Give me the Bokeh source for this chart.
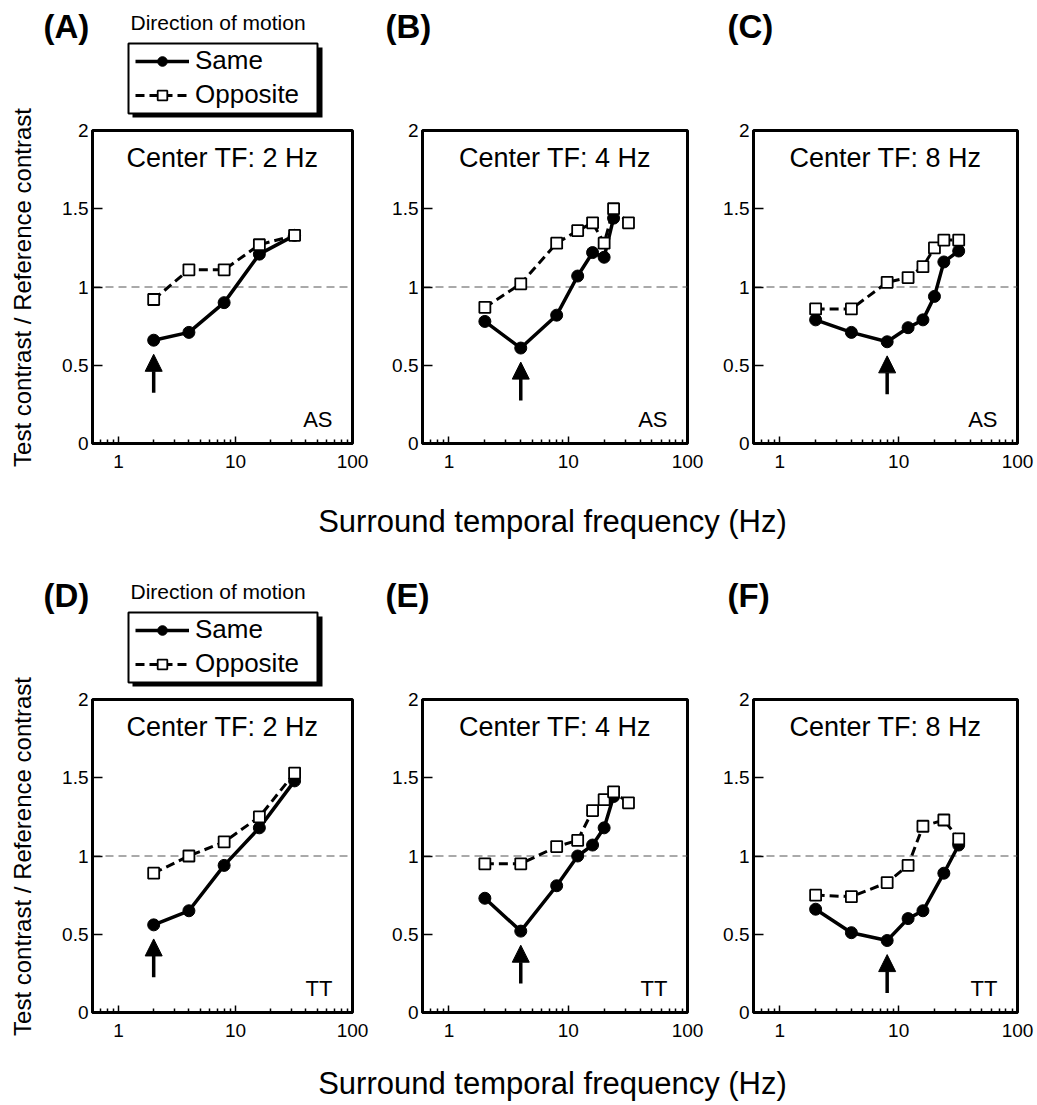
import math
from bokeh.plotting import figure
from bokeh.models import (Range1d, FixedTicker, CustomJSTickFormatter, Span, Label, Arrow,
                          NormalHead, BoxAnnotation, Legend, LegendItem, ColumnDataSource)
from bokeh.layouts import column, row
from bokeh.embed import file_html
from bokeh.resources import INLINE

# ---------------- data ----------------
panel_letters = ["(A)", "(B)", "(C)", "(D)", "(E)", "(F)"]
center_tf = [2, 4, 8, 2, 4, 8]
subjects = ["AS", "AS", "AS", "TT", "TT", "TT"]

freq_same_A = [2, 4, 8, 16, 32]
same_A = [0.66, 0.71, 0.90, 1.21, 1.33]
freq_opp_A = [2, 4, 8, 16, 32]
opp_A = [0.92, 1.11, 1.11, 1.27, 1.33]

freq_same_B = [2, 4, 8, 12, 16, 20, 24]
same_B = [0.78, 0.61, 0.82, 1.07, 1.22, 1.19, 1.44]
freq_opp_B = [2, 4, 8, 12, 16, 20, 24, 32]
opp_B = [0.87, 1.02, 1.28, 1.36, 1.41, 1.28, 1.50, 1.41]

freq_same_C = [2, 4, 8, 12, 16, 20, 24, 32]
same_C = [0.79, 0.71, 0.65, 0.74, 0.79, 0.94, 1.16, 1.23]
freq_opp_C = [2, 4, 8, 12, 16, 20, 24, 32]
opp_C = [0.86, 0.86, 1.03, 1.06, 1.13, 1.25, 1.30, 1.30]

freq_same_D = [2, 4, 8, 16, 32]
same_D = [0.56, 0.65, 0.94, 1.18, 1.48]
freq_opp_D = [2, 4, 8, 16, 32]
opp_D = [0.89, 1.00, 1.09, 1.25, 1.53]

freq_same_E = [2, 4, 8, 12, 16, 20, 24]
same_E = [0.73, 0.52, 0.81, 1.00, 1.07, 1.18, 1.38]
freq_opp_E = [2, 4, 8, 12, 16, 20, 24, 32]
opp_E = [0.95, 0.95, 1.06, 1.10, 1.29, 1.36, 1.41, 1.34]

freq_same_F = [2, 4, 8, 12, 16, 24, 32]
same_F = [0.66, 0.51, 0.46, 0.60, 0.65, 0.89, 1.07]
freq_opp_F = [2, 4, 8, 12, 16, 24, 32]
opp_F = [0.75, 0.74, 0.83, 0.94, 1.19, 1.23, 1.11]

x_ticks = [1, 10, 100]
x_minor = [0.6, 0.7, 0.8, 0.9, 2, 3, 4, 5, 6, 7, 8, 9, 20, 30, 40, 50, 60, 70, 80, 90]
y_ticks = [0, 0.5, 1, 1.5, 2]
reference_level = 1.0

x_title = "Surround temporal frequency (Hz)"
y_title = "Test contrast / Reference contrast"
legend_title = "Direction of motion"
legend_labels = ["Same", "Opposite"]

series = [
    (freq_same_A, same_A, freq_opp_A, opp_A),
    (freq_same_B, same_B, freq_opp_B, opp_B),
    (freq_same_C, same_C, freq_opp_C, opp_C),
    (freq_same_D, same_D, freq_opp_D, opp_D),
    (freq_same_E, same_E, freq_opp_E, opp_E),
    (freq_same_F, same_F, freq_opp_F, opp_F),
]

# ---------------- layout / style ----------------
FONT = "Liberation Sans"
TOTAL_W = 1037
STRIP_W = 40
COLS = [(52, 260, 20), (50, 265, 20), (46, 264, 20)]   # left border, frame width, right border
PANEL_TB = (12, 313, 40)                               # top border, frame height, bottom border
HEADER_H = [118, 132]
FOOTER_H = [72, 53]
FOOTER_Y = [34, 22]
YLABEL_CENTER = [268, 249]
LETTER_X = [43, 385, 727]

SAME_STYLE = dict(line_color="black", line_width=3.5)
OPP_STYLE = dict(line_color="black", line_width=3, line_dash="9 5")
CIRCLE_STYLE = dict(marker="circle", size=12, fill_color="black", line_color="black")
SQUARE_STYLE = dict(marker="square", size=11, fill_color="white", line_color="black", line_width=1.8)

sources = [(ColumnDataSource(dict(x=fs, y=ys)), ColumnDataSource(dict(x=fo, y=yo)))
           for fs, ys, fo, yo in series]


def blank_fig(w, h, x0=0):
    p = figure(width=w, height=h, x_range=Range1d(x0, x0 + w), y_range=Range1d(0, h),
               x_axis_location=None, y_axis_location=None, output_backend="svg",
               toolbar_location=None, min_border=0)
    p.title.visible = False
    p.grid.visible = False
    p.outline_line_color = None
    p.background_fill_color = "white"
    p.border_fill_color = "white"
    return p


def make_strip(r):
    h = HEADER_H[r] + sum(PANEL_TB) + FOOTER_H[r]
    p = blank_fig(STRIP_W, h)
    p.add_layout(Label(x=22, y=YLABEL_CENTER[r], text=y_title, angle=math.pi / 2,
                       text_align="center", text_baseline="middle", text_font=FONT,
                       text_font_size="24px", text_color="black"))
    return p


def make_header(r):
    h = HEADER_H[r]
    p = blank_fig(TOTAL_W - STRIP_W, h, STRIP_W)
    for c in range(3):
        p.add_layout(Label(x=LETTER_X[c], y=92, text=panel_letters[3 * r + c],
                           text_align="left", text_baseline="alphabetic", text_font=FONT,
                           text_font_size="33px", text_font_style="bold", text_color="black"))
    p.add_layout(Label(x=130, y=96, text=legend_title, text_align="left",
                       text_baseline="alphabetic", text_font=FONT, text_font_size="21px",
                       text_color="black"))
    # legend frame with drop shadow
    p.add_layout(BoxAnnotation(left=132, right=322, top=71, bottom=1,
                               fill_color="black", fill_alpha=1, line_alpha=0))
    p.add_layout(BoxAnnotation(left=128, right=317, top=75, bottom=5,
                               fill_color="white", fill_alpha=1, line_color="black",
                               line_width=2, line_alpha=1))
    src_s, src_o = sources[3 * r]
    r_ol = p.line("x", "y", source=src_o, **OPP_STYLE)
    r_sl = p.line("x", "y", source=src_s, **SAME_STYLE)
    r_sc = p.scatter("x", "y", source=src_s, **CIRCLE_STYLE)
    r_os = p.scatter("x", "y", source=src_o, **SQUARE_STYLE)
    for rr in (r_ol, r_sl, r_sc, r_os):
        rr.visible = False
    legend = Legend(items=[LegendItem(label=legend_labels[0], renderers=[r_sl, r_sc]),
                           LegendItem(label=legend_labels[1], renderers=[r_ol, r_os])],
                    location=(128 - STRIP_W, 1))
    legend.label_text_font = FONT
    legend.label_text_font_size = "26px"
    legend.label_text_color = "black"
    legend.glyph_width = 54
    legend.glyph_height = 24
    legend.label_standoff = 6
    legend.padding = 7
    legend.spacing = 3
    legend.margin = 0
    legend.border_line_alpha = 0
    legend.background_fill_alpha = 0
    legend.inactive_fill_alpha = 0
    p.add_layout(legend)
    return p


def make_footer(r):
    h = FOOTER_H[r]
    p = blank_fig(TOTAL_W - STRIP_W, h, STRIP_W)
    p.add_layout(Label(x=552, y=FOOTER_Y[r], text=x_title, text_align="center",
                       text_baseline="alphabetic", text_font=FONT, text_font_size="31px",
                       text_color="black"))
    return p


def make_panel(idx):
    r, c = divmod(idx, 3)
    lb, fw, rb = COLS[c]
    tb, fh, bb = PANEL_TB
    fs, ys, fo, yo = series[idx]
    src_s, src_o = sources[idx]

    p = figure(width=lb + fw + rb, height=tb + fh + bb, x_axis_type="log",
               x_range=Range1d(0.6, 100), y_range=Range1d(0, 2),
               output_backend="svg", toolbar_location=None,
               min_border_left=lb, min_border_right=rb, min_border_top=tb, min_border_bottom=bb)
    p.title.visible = False
    p.grid.visible = False
    p.background_fill_color = "white"
    p.border_fill_color = "white"
    p.outline_line_color = "black"
    p.outline_line_width = 3
    p.outline_line_alpha = 1

    xa = p.xaxis[0]
    xa.ticker = FixedTicker(ticks=x_ticks, minor_ticks=x_minor)
    xa.formatter = CustomJSTickFormatter(code="return tick.toString();")
    xa.major_tick_in = 7
    xa.major_tick_out = 0
    xa.minor_tick_in = 4
    xa.minor_tick_out = 0
    xa.major_tick_line_width = 1.5
    xa.minor_tick_line_width = 1.5
    xa.axis_line_width = 3
    xa.major_label_standoff = 11
    xa.major_label_text_font = FONT
    xa.major_label_text_font_size = "19px"
    xa.major_label_text_color = "black"

    ya = p.yaxis[0]
    ya.ticker = FixedTicker(ticks=y_ticks)
    ya.formatter = CustomJSTickFormatter(code="return tick.toString();")
    ya.major_tick_in = 10
    ya.major_tick_out = 0
    ya.minor_tick_in = 0
    ya.minor_tick_out = 0
    ya.major_tick_line_width = 1.5
    ya.axis_line_width = 3
    ya.major_label_standoff = 4
    ya.major_label_text_font = FONT
    ya.major_label_text_font_size = "19px"
    ya.major_label_text_color = "black"

    span = Span(location=reference_level, dimension="width", line_dash="8 5",
                line_color="#555555", line_width=1)
    span.level = "underlay"
    p.add_layout(span)

    p.line("x", "y", source=src_o, **OPP_STYLE)
    p.line("x", "y", source=src_s, **SAME_STYLE)
    p.scatter("x", "y", source=src_s, **CIRCLE_STYLE)
    p.scatter("x", "y", source=src_o, **SQUARE_STYLE)

    # arrow under the center temporal frequency
    ctf = center_tf[idx]
    tip = ys[fs.index(ctf)] - 0.09
    tail = tip - 0.245
    p.add_layout(Arrow(end=NormalHead(size=17, fill_color="black", line_color="black"),
                       x_start=ctf, y_start=tail, x_end=ctf, y_end=tip,
                       line_width=3.5, line_color="black"))

    p.add_layout(Label(x=fw / 2, y=fh - 27, x_units="screen", y_units="screen",
                       text=f"Center TF: {ctf} Hz", text_align="center",
                       text_baseline="alphabetic", text_font=FONT, text_font_size="27px",
                       text_color="black"))
    p.add_layout(Label(x=fw - 20, y=24, x_units="screen", y_units="screen",
                       text=subjects[idx], text_align="right", text_baseline="alphabetic",
                       text_font=FONT, text_font_size="22px", text_color="black"))
    return p


blocks = []
for r in range(2):
    right = column(make_header(r),
                   row(*[make_panel(3 * r + c) for c in range(3)], spacing=0),
                   make_footer(r), spacing=0)
    blocks.append(row(make_strip(r), right, spacing=0))

layout = column(*blocks, spacing=0)

open("out.html", "w").write(file_html(layout, INLINE))
